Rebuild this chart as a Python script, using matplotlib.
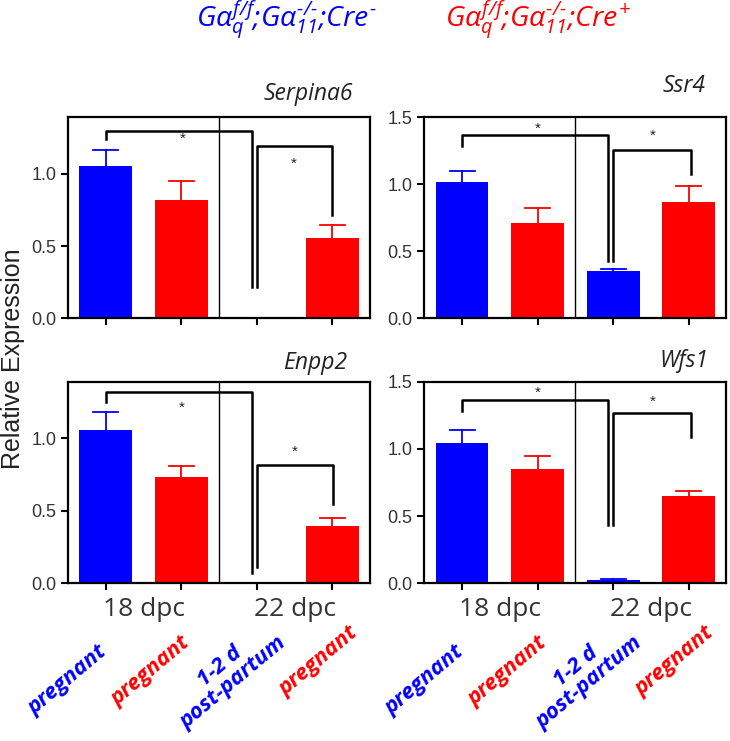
import numpy as np
import matplotlib
matplotlib.use('Agg')
from matplotlib import pyplot as plt
from matplotlib import transforms

plt.rcParams['font.family'] = ['Liberation Sans', 'DejaVu Sans']
plt.rcParams['mathtext.fontset'] = 'custom'
plt.rcParams['mathtext.rm'] = 'Open Sans:italic'
plt.rcParams['mathtext.it'] = 'Open Sans:italic'

# bar order: Cre- 18 dpc, Cre+ 18 dpc, Cre- 22 dpc (post-partum), Cre+ 22 dpc
genes = ['Serpina6', 'Ssr4', 'Enpp2', 'Wfs1']
serpina6_mean = [1.05, 0.815, 0.004, 0.555]
serpina6_err = [0.115, 0.135, 0.0, 0.093]
ssr4_mean = [1.015, 0.713, 0.353, 0.868]
ssr4_err = [0.085, 0.11, 0.015, 0.119]
enpp2_mean = [1.057, 0.73, 0.0, 0.397]
enpp2_err = [0.125, 0.08, 0.0, 0.056]
wfs1_mean = [1.042, 0.851, 0.025, 0.651]
wfs1_err = [0.10, 0.094, 0.006, 0.033]

# significance brackets: x0, x1, top, left end, right end, star x, star y
serpina6_brackets = [[0, 1.94, 1.29, 1.235, 0.216, 1.02, 1.24],
                     [2.0, 3.0, 1.19, 0.216, 0.716, 2.49, 1.064]]
ssr4_brackets = [[0, 1.93, 1.363, 1.283, 0.43, 1.0, 1.41],
                 [2.0, 3.03, 1.258, 0.43, 1.077, 2.53, 1.358]]
enpp2_brackets = [[0, 1.94, 1.32, 1.25, 0.07, 1.0, 1.21],
                  [2.0, 3.01, 0.813, 0.11, 0.547, 2.5, 0.905]]
wfs1_brackets = [[0, 1.93, 1.368, 1.286, 0.433, 1.0, 1.418],
                 [2.0, 3.03, 1.266, 0.433, 1.087, 2.53, 1.356]]

means = [serpina6_mean, ssr4_mean, enpp2_mean, wfs1_mean]
errs = [serpina6_err, ssr4_err, enpp2_err, wfs1_err]
brackets = [serpina6_brackets, ssr4_brackets, enpp2_brackets, wfs1_brackets]
ytops = [1.39, 1.5, 1.39, 1.5]
yticks = [[0, 0.5, 1.0], [0, 0.5, 1.0, 1.5], [0, 0.5, 1.0], [0, 0.5, 1.0, 1.5]]

group_labels = ['18 dpc', '22 dpc']
cond_labels = ['pregnant', 'pregnant', '1-2 d\npost-partum', 'pregnant']
bar_colors = ['#0000ff', '#ff0000', '#0000ff', '#ff0000']

fig = plt.figure(figsize=(7.3, 7.41), dpi=100)
rects = [[0.0932, 0.5702, 0.4137, 0.2719],
         [0.5812, 0.5702, 0.4140, 0.2719],
         [0.0932, 0.2132, 0.4137, 0.2713],
         [0.5812, 0.2132, 0.4140, 0.2713]]
# title placement (pixels in from right edge, pixels above top)
title_dx = [17, 21, 23, 18]
title_dy = [23, 31, 19, 21]

x = np.arange(4)
cap = 0.165
for k in range(4):
    ax = fig.add_axes(rects[k])
    ax.bar(x, means[k], width=0.7, color=bar_colors, zorder=2)
    for i in range(4):
        top = means[k][i] + errs[k][i]
        if errs[k][i] > 0:
            ax.plot([x[i], x[i]], [means[k][i], top], color=bar_colors[i], lw=1.3, zorder=1)
            ax.plot([x[i] - cap, x[i] + cap], [top, top], color=bar_colors[i], lw=1.3, zorder=1)
    for b in brackets[k]:
        x0, x1, top, yl, yr, sx, sy = b
        ax.plot([x0, x0, x1, x1], [yl, top, top, yr], color='black', lw=1.8, zorder=3)
        ax.text(sx, sy, '*', ha='center', va='center', fontsize=11, color='#222222')
    ax.axvline(1.5, color='black', lw=1.0, zorder=0)
    ax.set_xlim(-0.5, 3.5)
    ax.set_ylim(0, ytops[k])
    ax.set_yticks(yticks[k])
    ax.set_yticklabels(['%.1f' % v for v in yticks[k]], fontsize=13, color='#333333')
    ax.set_xticks(x)
    ax.set_xticklabels([])
    ax.tick_params(axis='both', direction='out', length=5, width=1.5, color='black')
    for s in ax.spines.values():
        s.set_linewidth(1.6)
    w_px = rects[k][2] * 730
    h_px = rects[k][3] * 741
    ax.text(1 - title_dx[k] / w_px, 1 + title_dy[k] / h_px, genes[k], transform=ax.transAxes,
            ha='right', va='center', fontsize=16.5, style='italic', family='Open Sans',
            color='#222222')
    if k >= 2:
        trans = transforms.blended_transform_factory(ax.transData, ax.transAxes)
        for j, lab in enumerate(group_labels):
            ax.text(0.5 + 2 * j, -0.13, lab, transform=trans, ha='center', va='center',
                    fontsize=19, family='Open Sans', color='#333333')
        label_x = [-0.5, 0.6, 1.6, 2.82]
        label_y = [-0.483, -0.44, -0.455, -0.39]
        for i, lab in enumerate(cond_labels):
            ax.text(label_x[i], label_y[i], lab, transform=trans, ha='center', va='center',
                    rotation=40, rotation_mode='anchor', fontsize=16, family='Open Sans',
                    weight='bold', style='italic', color=bar_colors[i], linespacing=1.0,
                    multialignment='center')

fig.text(0.018, 0.5155, 'Relative Expression', rotation=90, ha='center', va='center',
         fontsize=18, color='#222222')
fig.text(0.392, 0.972, r'$G\alpha_q^{f/f}\text{;}G\alpha_{11}^{\text{-/-}}\text{;}Cre^{\text{-}}$',
         ha='center', va='center', fontsize=20.5, color='#0000ff')
fig.text(0.737, 0.972, r'$G\alpha_q^{f/f}\text{;}G\alpha_{11}^{\text{-/-}}\text{;}Cre^{+}$',
         ha='center', va='center', fontsize=20.5, color='#ff0000')

fig.savefig('out.png', dpi=100)
